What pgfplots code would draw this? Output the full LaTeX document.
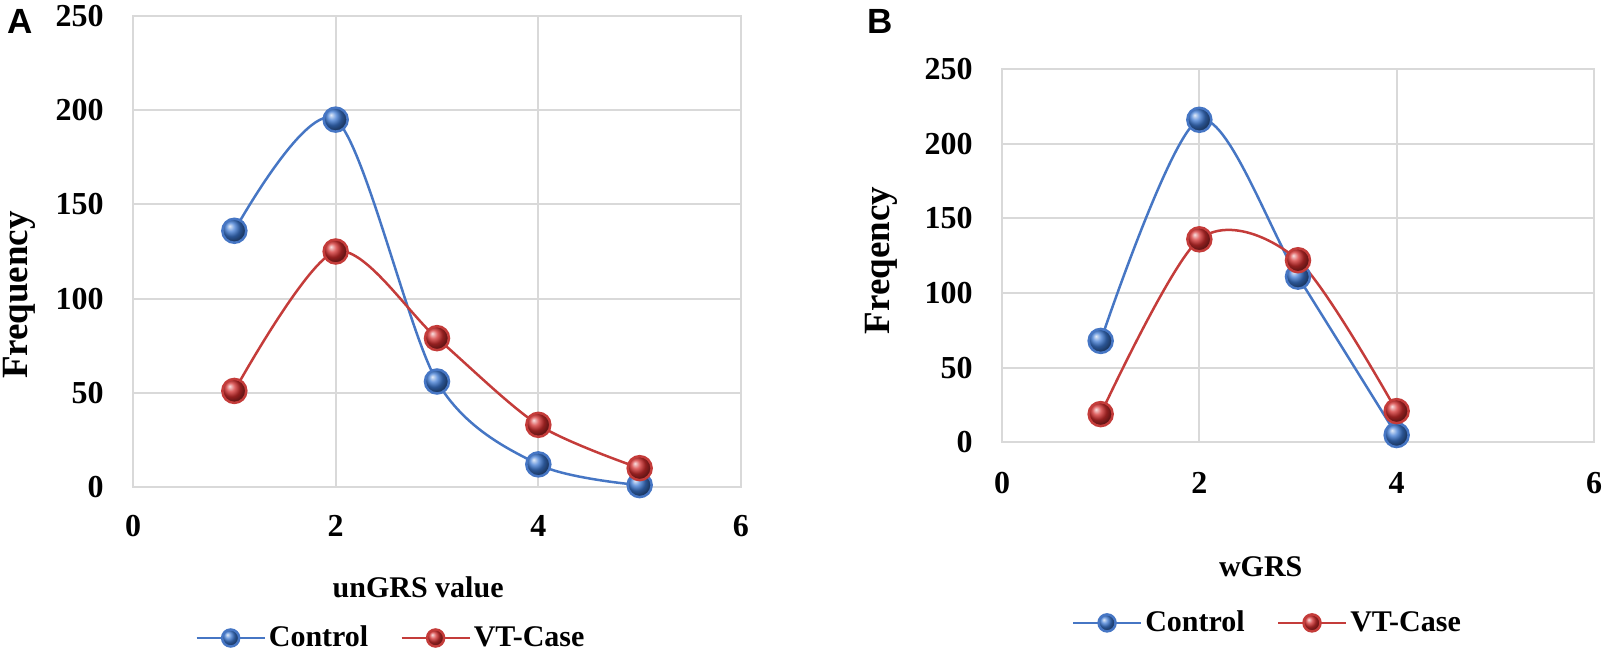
\documentclass[border=0pt]{standalone}
\usepackage{pgfplots}
\pgfplotsset{compat=1.18}
\usepackage{fontspec}
\setmainfont{Liberation Serif}
\newfontfamily\arialf{Liberation Sans}
\usetikzlibrary{shadings}
\definecolor{cline}{RGB}{70,118,196}
\definecolor{rline}{RGB}{196,60,58}
\definecolor{cball}{RGB}{60,120,210}
\definecolor{rball}{RGB}{210,45,45}
\definecolor{gridc}{RGB}{217,217,217}
\pgfplotstableread{
x ctrl vt
1 136 51
2 195 125
3 56 79
4 12 33
5 1 10
}\tabA
\pgfplotstableread{
x ctrl vt
1 68 19
2 216 136
3 111 122
4 5 21
}\tabB
\pgfplotsset{
  mystyle/.style={
    scale only axis,
    axis line style={draw=gridc, line width=1pt},
    grid=major,
    grid style={draw=gridc, line width=1pt},
    major tick length=0pt,
    tick style={draw=none},
    xmin=0, xmax=6, ymin=0, ymax=250,
    xtick={0,2,4,6}, ytick={0,50,...,250},
    /pgf/number format/assume math mode=true,
    ticklabel style={font=\fontsize{16}{16}\selectfont\bfseries},
    yticklabel style={anchor=east, inner sep=0pt, xshift=-14.5pt},
    clip=false,
    legend columns=2,
    legend style={draw=none, fill=none, font=\fontsize{15}{15}\selectfont\bfseries,
      anchor=center, /tikz/every even column/.append style={column sep=14.5pt},
      nodes={inner sep=1.5pt, anchor=west}},
    legend image code/.code={
      \draw[##1, mark repeat=2, mark phase=2, mark size=4.25pt] plot coordinates {(0pt,0pt) (17pt,0pt) (34pt,0pt)};
    },
    xlabel style={font=\fontsize{15}{15}\selectfont\bfseries, anchor=center},
    ylabel style={font=\fontsize{18.5}{18.5}\selectfont\bfseries, anchor=center},
  },
  cstyle/.style={cline, line width=1.25pt, smooth, tension=0.5, mark=ball, mark size=6pt, mark options={ball color=cball}},
  rstyle/.style={rline, line width=1.25pt, smooth, tension=0.5, mark=ball, mark size=6pt, mark options={ball color=rball}},
}
\begin{document}
\begin{tikzpicture}
\useasboundingbox (0,0) rectangle (801.5pt,326.5pt);
\begin{axis}[mystyle,
  at={(66.5pt,83pt)}, anchor=south west,
  width=304pt, height=235.5pt,
  xticklabel style={anchor=center, inner sep=0pt, yshift=-19.5pt},
  xlabel={unGRS value},
  xlabel style={at={(axis description cs:0.469,-0.212)}},
  ylabel={Frequency},
  ylabel style={at={(axis description cs:-0.1875,0.4076)}},
  legend style={at={(axis description cs:0.425,-0.3206)}},
]
\addplot[cstyle] table[x=x, y=ctrl] {\tabA};
\addlegendentry{Control}
\addplot[rstyle] table[x=x, y=vt] {\tabA};
\addlegendentry{VT-Case}
\end{axis}
\begin{axis}[mystyle,
  at={(501pt,105.25pt)}, anchor=south west,
  width=296pt, height=186.75pt,
  xticklabel style={anchor=center, inner sep=0pt, yshift=-20.25pt},
  xlabel={wGRS},
  xlabel style={at={(axis description cs:0.437,-0.333)}},
  ylabel={Freqency},
  ylabel style={at={(axis description cs:-0.2035,0.487)}},
  legend style={at={(axis description cs:0.449,-0.483)}},
]
\addplot[cstyle] table[x=x, y=ctrl] {\tabB};
\addlegendentry{Control}
\addplot[rstyle] table[x=x, y=vt] {\tabB};
\addlegendentry{VT-Case}
\end{axis}
\node[font=\fontsize{17.5}{17.5}\selectfont\arialf\bfseries, inner sep=0pt] at (10pt,316pt) {A};
\node[font=\fontsize{17.5}{17.5}\selectfont\arialf\bfseries, inner sep=0pt] at (440pt,316pt) {B};
\end{tikzpicture}
\end{document}
